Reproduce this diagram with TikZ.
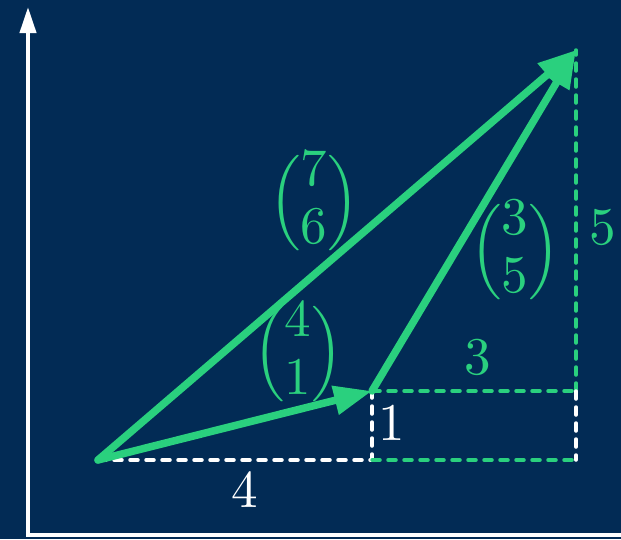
\RequirePackage{fix-cm}
\documentclass[tikz,border=0pt]{standalone}
\usepackage{amsmath}
\usepackage{graphicx}
\usetikzlibrary{arrows.meta}
\definecolor{bg}{HTML}{022B55}
\definecolor{vgreen}{HTML}{2AD07E}
\newcommand\bigtxt[1]{\scalebox{5.3}{#1}}
\newcommand\colvec[2]{\bigtxt{$\renewcommand\arraystretch{0.9}\Big(\begin{matrix}#1\\#2\end{matrix}\Big)$}}
\begin{document}
\begin{tikzpicture}[x=1pt,y=-1pt,
  vec/.style={vgreen, line width=7.5pt, line cap=round, -{Triangle[length=38pt,width=28pt]}},
  wdash/.style={white, line width=3.5pt, dash pattern=on 8pt off 8pt, line cap=round},
  gdash/.style={wdash, vgreen},
  axisline/.style={white, line width=4pt},
  lbl/.style={inner sep=0pt}]
\fill[bg] (0,0) rectangle (621,539);
\useasboundingbox (0,0) rectangle (621,539);
% axes
\coordinate (ax0) at (28,535);
\coordinate (axC) at (26,535);
\coordinate (axY) at (28,7);
\coordinate (axX) at (621,535);
\draw[axisline, -{Triangle[length=26pt,width=16pt]}] (ax0) -- (axY);
\draw[axisline] (axC) -- (axX);
% points
\coordinate (O) at (98,460);
\coordinate (A) at (372,391);
\coordinate (B) at (576,50);
\coordinate (C) at (372,460);
\coordinate (D) at (576,460);
\coordinate (E) at (576,391);
% dashed guides
\draw[wdash] (O) -- (C) -- (A);
\draw[gdash] (C) -- (D);
\draw[gdash] (A) -- (E);
\draw[gdash] (E) -- (B);
\draw[wdash] (E) -- (D);
% vectors
\draw[vec] (O) -- (A);
\draw[vec] (A) -- (B);
\draw[vec] (O) -- (B);
% labels
\node[lbl, vgreen] (m76) at (314,203) {\colvec{7}{6}};
\node[lbl, vgreen] (m35) at (515,252) {\colvec{3}{5}};
\node[lbl, vgreen] (m41) at (298,354) {\colvec{4}{1}};
\node[lbl, vgreen] (l3) at (478,357) {\bigtxt{3}};
\node[lbl, vgreen] (l5) at (603,227) {\bigtxt{5}};
\node[lbl, white] (l1) at (392,423) {\bigtxt{1}};
\node[lbl, white] (l4) at (245,490) {\bigtxt{4}};
\end{tikzpicture}
\end{document}
